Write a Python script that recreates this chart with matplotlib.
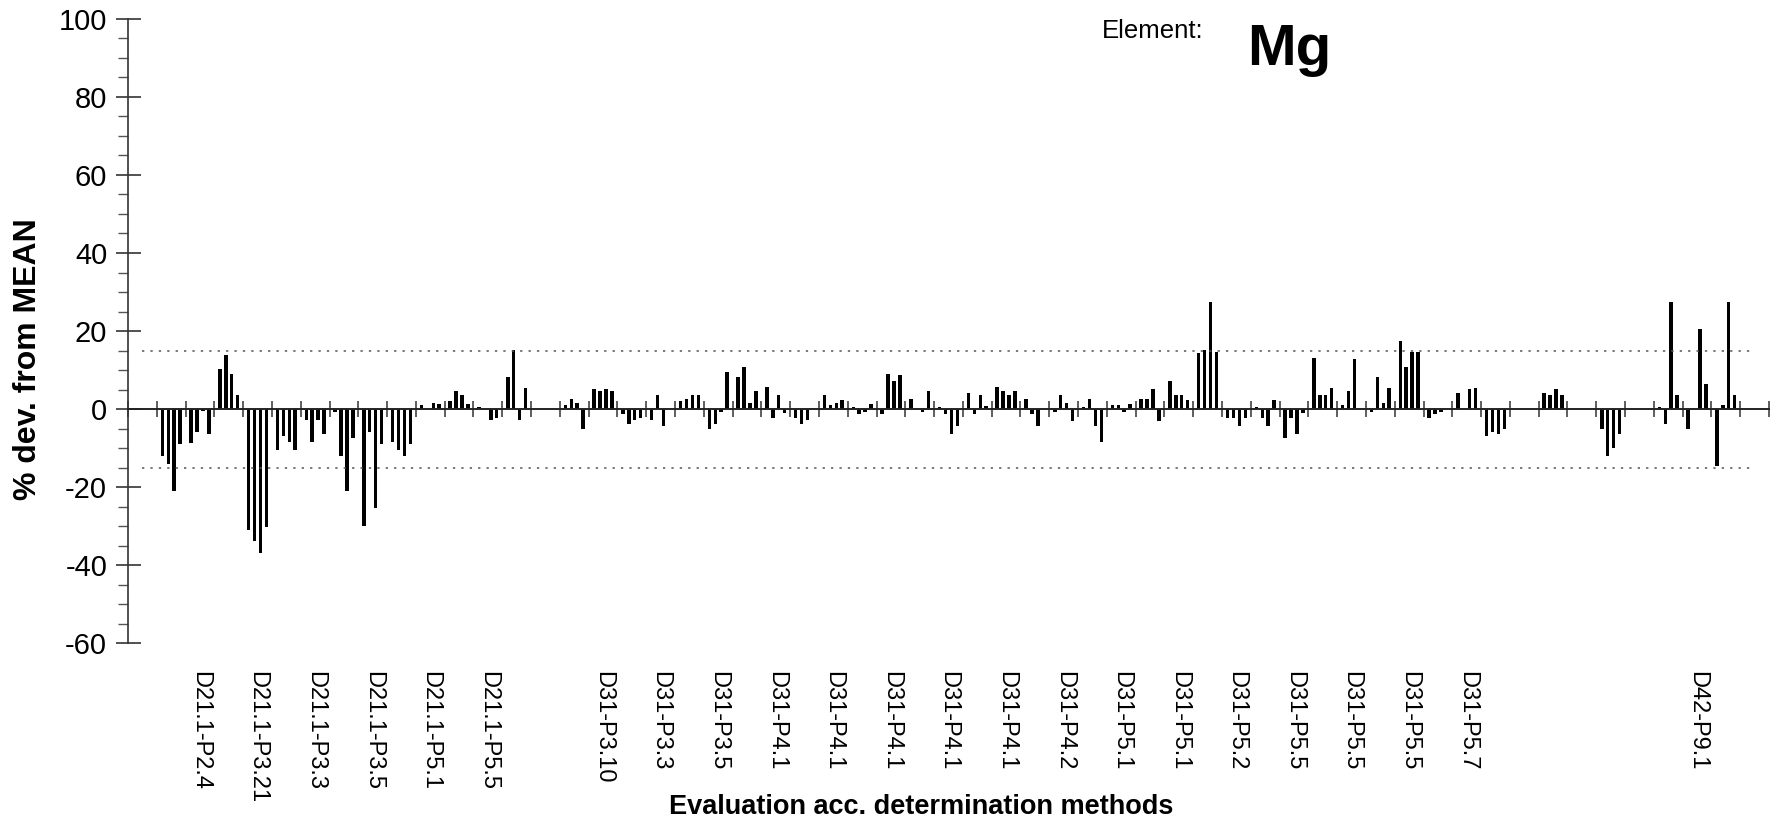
import numpy as np
import matplotlib.pyplot as plt

plt.rcParams['font.family'] = ['Liberation Sans', 'DejaVu Sans']
plt.rcParams['axes.unicode_minus'] = False

# % deviation from mean, 4 determinations per sample (None = no result)
dev = [
    None, None, None, None,
    -12.0, -14.1, -21.1, -9.1,
    -8.8, -6.0, -0.6, -6.3,
    10.2, 13.8, 9.1, 3.6,
    -31.0, -33.9, -36.8, -30.2,
    -10.6, -6.9, -8.5, -10.4,
    -2.8, -8.5, -2.8, -6.3,
    -0.7, -12.0, -21.1, -7.4,
    -29.9, -6.0, -25.3, -9.1,
    -8.5, -10.5, -12.0, -9.1,
    0.9, None, 1.5, 1.3,
    2.0, 4.6, 3.6, 1.3,
    0.5, None, -2.9, -2.2,
    8.2, 15.1, -2.9, 5.4,
    None, None, None, None,
    0.9, 2.6, 1.5, -5.0,
    5.1, 4.6, 5.1, 4.6,
    -1.2, -3.8, -2.9, -2.2,
    -2.9, 3.6, -4.3, None,
    2.0, 2.6, 3.6, 3.6,
    -5.2, -3.8, -0.7, 9.5,
    8.2, 10.7, 1.5, 4.6,
    5.6, -2.4, 3.6, -0.9,
    -2.4, -3.8, -2.9, None,
    3.6, 0.9, 1.5, 2.3,
    0.5, -1.2, -0.7, 1.3,
    -1.2, 9.1, 7.2, 8.7,
    2.5, None, -0.7, 4.6,
    0.5, -1.2, -6.5, -4.3,
    4.1, -1.2, 3.6, 0.7,
    5.6, 4.6, 3.6, 4.6,
    2.5, -1.2, -4.3, None,
    -0.7, 3.6, 1.5, -3.2,
    0.5, 2.5, -4.3, -8.4,
    0.9, 0.9, -0.7, 1.3,
    2.5, 2.5, 5.1, -3.2,
    7.2, 3.6, 3.6, 2.3,
    14.3, 15.1, 27.5, 14.7,
    -2.4, -2.4, -4.3, -2.2,
    0.5, -2.4, -4.3, 2.3,
    -7.4, -2.4, -6.5, -0.9,
    13.2, 3.6, 3.6, 5.4,
    0.9, 4.6, 12.8, None,
    -0.7, 8.2, 1.5, 5.4,
    17.4, 10.7, 14.7, 14.7,
    -2.4, -1.2, -0.7, None,
    4.1, None, 5.1, 5.4,
    -6.9, -6.0, -6.5, -5.0,
    None, None, None, None,
    4.1, 3.6, 5.1, 3.6,
    None, None, None, None,
    -5.2, -12.0, -10.0, -6.3,
    None, None, None, None,
    0.5, -3.8, 27.5, 3.6,
    -5.2, None, 20.5, 6.4,
    -14.5, 0.9, 27.5, 3.6,
    None, None, None, None,
]

# labels shown on every second sample
labels = ['', 'D21.1-P2.4', 'D21.1-P3.21', 'D21.1-P3.3', 'D21.1-P3.5', 'D21.1-P5.1',
          'D21.1-P5.5', '', 'D31-P3.10', 'D31-P3.3', 'D31-P3.5', 'D31-P4.1',
          'D31-P4.1', 'D31-P4.1', 'D31-P4.1', 'D31-P4.1', 'D31-P4.2', 'D31-P5.1',
          'D31-P5.1', 'D31-P5.2', 'D31-P5.5', 'D31-P5.5', 'D31-P5.5', 'D31-P5.7',
          '', '', '', 'D42-P9.1', '']
limit = 15

vals = np.array([np.nan if v is None else v for v in dev]).reshape(-1, 4)
n_cat = vals.shape[0]

fig = plt.figure(figsize=(17.78, 8.21), dpi=100)
ax = fig.add_axes([128 / 1778, 1 - 643 / 821, (1769 - 128) / 1778, (643 - 19) / 821])

# clustered bars, 4 per sample
for j in range(4):
    x = np.arange(n_cat) + 0.5 + (j - 1.5) * 0.205
    ok = ~np.isnan(vals[:, j])
    ax.bar(x[ok], vals[ok, j], width=0.12, color='black', linewidth=0)

# +-15 % limits
xc = np.arange(n_cat) + 0.5
ax.plot(xc, np.full(n_cat, limit), color='#555555', lw=1.1, ls=(0, (1.5, 4)))
ax.plot(xc, np.full(n_cat, -limit), color='#555555', lw=1.1, ls=(0, (1.5, 4)))

ax.set_xlim(0, n_cat)
ax.set_ylim(-60, 100)

for s in ['top', 'right']:
    ax.spines[s].set_visible(False)
ax.spines['bottom'].set_position(('data', 0))
ax.spines['left'].set_color('#333333')
ax.spines['bottom'].set_color('#222222')
ax.spines['left'].set_linewidth(1.2)
ax.spines['bottom'].set_linewidth(1.4)

ax.set_yticks(np.arange(-60, 101, 20))
ax.set_yticks(np.arange(-60, 101, 5), minor=True)
ax.tick_params(axis='y', which='major', direction='inout', length=18, width=1.2,
               color='#333333', labelsize=21, pad=6)
ax.tick_params(axis='y', which='minor', direction='out', length=7, width=1, color='#555555')

ax.set_xticks(np.arange(0, n_cat + 1))
ax.tick_params(axis='x', which='major', direction='inout', length=12, width=1.1,
               color='#333333', labelbottom=False)

sec = ax.secondary_xaxis('bottom')
sec.set_xticks(np.arange(0, n_cat, 2) + 0.5, labels)
sec.tick_params(length=0, pad=20, labelsize=17, labelrotation=270)
sec.spines['bottom'].set_visible(False)

ax.set_ylabel('% dev. from MEAN', fontsize=23, fontweight='bold')
ax.yaxis.set_label_coords(-0.052, 0.455)

fig.text(921 / 1778, 1 - 807 / 821, 'Evaluation acc. determination methods',
         fontsize=19.5, fontweight='bold', ha='center', va='center')
fig.text(1102 / 1778, 1 - 31 / 821, 'Element:', fontsize=18.5, ha='left', va='center')
fig.text(1247 / 1778, 1 - 50 / 821, 'Mg', fontsize=42, fontweight='bold', ha='left', va='center')

fig.savefig('out.png', dpi=100)
